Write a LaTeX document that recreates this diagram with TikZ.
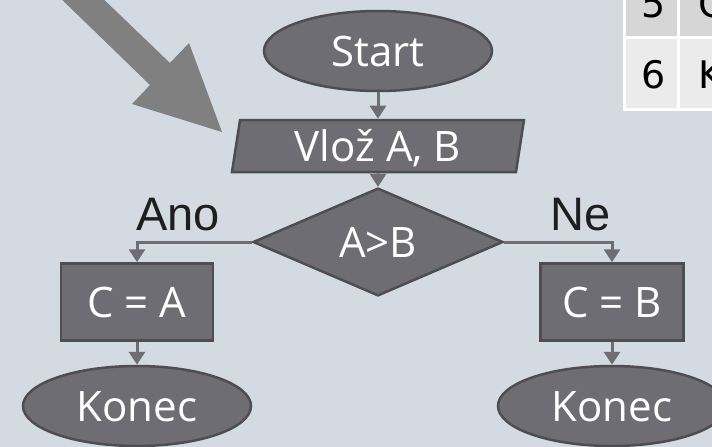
\documentclass[tikz,border=0pt]{standalone}
\usepackage{fontspec}
\setmainfont{Open Sans}
\newfontfamily\labelfont{Liberation Sans}
\newfontfamily\tablefont{DejaVu Sans}
\usetikzlibrary{shapes.geometric,arrows.meta}

\definecolor{bg}{RGB}{211,218,225}
\definecolor{shapefill}{RGB}{110,109,115}
\definecolor{shapeedge}{RGB}{78,77,82}
\definecolor{conncol}{RGB}{110,109,115}
\definecolor{bigarrow}{RGB}{128,128,128}
\definecolor{rowdark}{RGB}{214,214,214}
\definecolor{rowlight}{RGB}{235,235,235}
\definecolor{labeltext}{RGB}{30,30,30}

\begin{document}
\begin{tikzpicture}[x=1pt,y=-1pt,
  block/.style={draw=shapeedge, fill=shapefill, line width=2.5pt, text=white,
    font=\fontsize{42}{50}\selectfont, text height=30pt, text depth=0pt, inner sep=0pt},
  terminal/.style={block, ellipse, minimum width=228pt, minimum height=80pt},
  process/.style={block, rectangle, minimum height=77pt},
  io/.style={block, trapezium, trapezium left angle=75, trapezium right angle=105,
    trapezium stretches body, minimum width=292pt, minimum height=52pt},
  decision/.style={block, diamond, minimum width=250pt, minimum height=82pt},
  conn/.style={draw=conncol, line width=3pt, -{Triangle[width=16pt,length=13pt]}},
  branch/.style={font=\labelfont\fontsize{47}{56}\selectfont, text=labeltext,
    anchor=base, inner sep=0pt},
  cell/.style={font=\tablefont\fontsize{38}{46}\selectfont, text=black, inner sep=0pt}
]
\useasboundingbox (0,0) rectangle (712,447);
\clip (0,0) rectangle (712,447);
\fill[bg] (0,0) rectangle (712,447);

% pointer arrow in the upper left corner
\fill[bigarrow] (52,-10) -- (150,85) -- (132,104) -- (222,132)
  -- (189,43) -- (170,63) -- (94,-10) -- cycle;

% table fragment in the upper right corner
\fill[white] (623,-5) rectangle (720,111);
\fill[rowdark] (626,-5) rectangle (677,36);
\fill[rowdark] (680,-5) rectangle (720,36);
\fill[rowlight] (626,39) rectangle (677,108);
\fill[rowlight] (680,39) rectangle (720,108);
\node[cell, anchor=base] (n5) at (654,17) {5};
\node[cell, anchor=base] (n6) at (654,88) {6};
\node[cell, anchor=base west] (t5) at (698,17) {C};
\node[cell, anchor=base west] (t6) at (698,88) {K};

% flowchart
\node[terminal] (start) at (378,51) {Start};
\node[io] (in) at (378,146) {Vlož A, B};
\node[decision] (dec) at (378,242) {A>B};
\node[process, minimum width=152pt] (ca) at (137,302) {C = A};
\node[process, minimum width=143pt] (cb) at (612,302) {C = B};
\node[terminal] (enda) at (137,406) {Konec};
\node[terminal] (endb) at (612,406) {Konec};

\node[branch] (ano) at (178,230) {Ano};
\node[branch] (ne) at (581,230) {Ne};

\draw[conn] (start) -- (in);
\draw[conn] (in) -- (dec);
\draw[conn] (dec.west) -| (ca.north);
\draw[conn] (dec.east) -| (cb.north);
\draw[conn] (ca) -- (enda);
\draw[conn] (cb) -- (endb);
\end{tikzpicture}
\end{document}
